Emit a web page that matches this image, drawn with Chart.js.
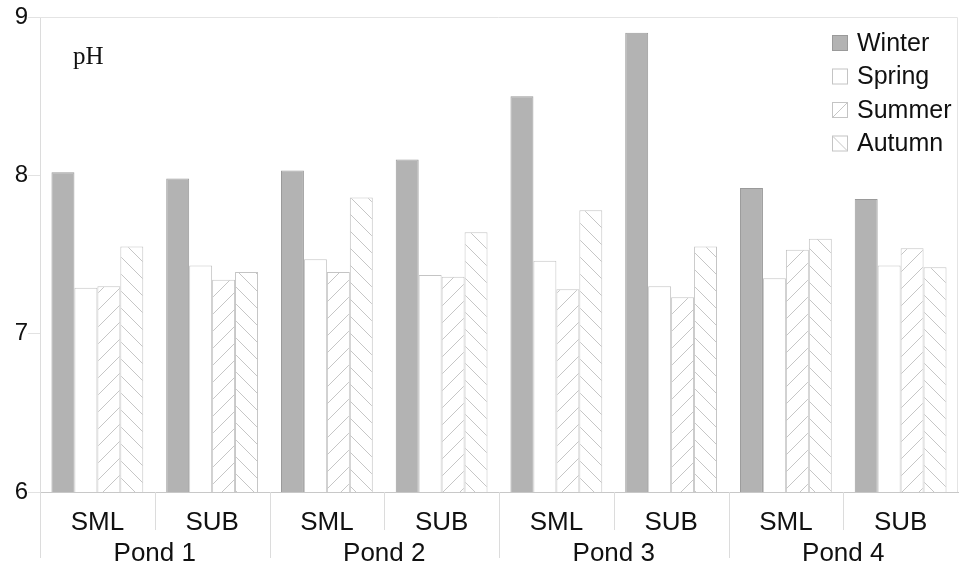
<!DOCTYPE html>
<html>
<head>
<meta charset="utf-8">
<script src="https://cdn.jsdelivr.net/npm/chart.js@4.4.1/dist/chart.umd.min.js"></script>
<style>
  html, body { margin: 0; padding: 0; background: #fff; }
</style>
</head>
<body>
<canvas id="phChart" width="961" height="566"></canvas>
<script>
// categories
const sites = ['SML', 'SUB', 'SML', 'SUB', 'SML', 'SUB', 'SML', 'SUB'];
const ponds = ['Pond 1', 'Pond 2', 'Pond 3', 'Pond 4'];
const seasons = ['Winter', 'Spring', 'Summer', 'Autumn'];
const yTicks = [6, 7, 8, 9];

// pH values
const winter = [8.02, 7.98, 8.03, 8.10, 8.50, 8.90, 7.92, 7.85];
const spring = [7.29, 7.43, 7.47, 7.37, 7.46, 7.30, 7.35, 7.43];
const summer = [7.30, 7.34, 7.39, 7.36, 7.28, 7.23, 7.53, 7.54];
const autumn = [7.55, 7.39, 7.86, 7.64, 7.78, 7.55, 7.60, 7.42];

const hatchColor = '#c6c6c6';
const textColor = '#111111';
const sans = '"Liberation Sans", Arial, sans-serif';

// hachures pour Summer (/) et Autumn (\)
function makeHatch(dir) {
    const size = 17;
    const c = document.createElement('canvas');
    c.width = size;
    c.height = size;
    const g = c.getContext('2d');
    g.fillStyle = '#ffffff';
    g.fillRect(0, 0, size, size);
    g.strokeStyle = hatchColor;
    g.lineWidth = 1;
    g.beginPath();
    if (dir === '/') {
        g.moveTo(-1, size + 1); g.lineTo(size + 1, -1);
        g.moveTo(-2, 2); g.lineTo(2, -2);
        g.moveTo(size - 2, size + 2); g.lineTo(size + 2, size - 2);
    } else {
        g.moveTo(-1, -1); g.lineTo(size + 1, size + 1);
        g.moveTo(-2, size - 2); g.lineTo(2, size + 2);
        g.moveTo(size - 2, -2); g.lineTo(size + 2, 2);
    }
    g.stroke();
    return g.createPattern(c, 'repeat');
}

const fills = ['#b3b3b3', '#ffffff', makeHatch('/'), makeHatch('\\')];
const borders = ['#9a9a9a', '#c4c4c4', '#c4c4c4', '#c4c4c4'];
const seriesValues = [winter, spring, summer, autumn];

// cadre gris clair + séparateurs sous l'axe
const framePlugin = {
    id: 'frame',
    beforeDatasetsDraw(chart) {
        const { ctx, chartArea } = chart;
        ctx.save();
        ctx.strokeStyle = '#e4e4e4';
        ctx.lineWidth = 1;
        ctx.beginPath();
        ctx.moveTo(chartArea.left, chartArea.top + 0.5);
        ctx.lineTo(chartArea.right - 0.5, chartArea.top + 0.5);
        ctx.lineTo(chartArea.right - 0.5, chartArea.bottom);
        ctx.stroke();
        ctx.restore();
    },
    afterDraw(chart) {
        const { ctx } = chart;
        const xs = chart.scales.x;
        const step = xs.getPixelForValue(1) - xs.getPixelForValue(0);
        ctx.save();
        ctx.strokeStyle = '#dcdcdc';
        ctx.lineWidth = 1;
        ctx.beginPath();
        for (let i = 0; i < sites.length; i++) {
            const px = Math.round(xs.getPixelForValue(i) - step / 2) + 0.5;
            const end = i % 2 === 0 ? chart.height - 8 : xs.top + 38;
            ctx.moveTo(px, xs.top);
            ctx.lineTo(px, end);
        }
        ctx.stroke();
        ctx.restore();
    }
};

// légende dans la zone du graphique, en haut à droite
const legendPlugin = {
    id: 'insideLegend',
    afterDraw(chart) {
        const { ctx } = chart;
        const left = 832;
        const top = 35;
        const rowH = 33.5;
        const box = 16;
        ctx.save();
        ctx.font = '25px ' + sans;
        ctx.textBaseline = 'middle';
        ctx.textAlign = 'left';
        seasons.forEach((name, i) => {
            const y = top + i * rowH;
            ctx.fillStyle = i === 0 ? fills[0] : '#ffffff';
            ctx.fillRect(left, y, box, box);
            ctx.strokeStyle = borders[i];
            ctx.lineWidth = 1;
            ctx.strokeRect(left + 0.5, y + 0.5, box - 1, box - 1);
            if (i >= 2) {
                ctx.strokeStyle = hatchColor;
                ctx.beginPath();
                if (i === 2) { ctx.moveTo(left + 1, y + box - 1); ctx.lineTo(left + box - 1, y + 1); }
                else { ctx.moveTo(left + 1, y + 1); ctx.lineTo(left + box - 1, y + box - 1); }
                ctx.stroke();
            }
            ctx.fillStyle = textColor;
            ctx.fillText(name, left + 25, y + box / 2 + 1);
        });
        ctx.restore();
    }
};

// étiquette pH
const titlePlugin = {
    id: 'phLabel',
    afterDraw(chart) {
        const { ctx } = chart;
        ctx.save();
        ctx.font = '25px "Liberation Serif", "Times New Roman", serif';
        ctx.fillStyle = textColor;
        ctx.textBaseline = 'alphabetic';
        ctx.fillText('pH', 73, 64);
        ctx.restore();
    }
};

const ctx = document.getElementById('phChart').getContext('2d');

new Chart(ctx, {
    type: 'bar',
    data: {
        labels: sites,
        datasets: seasons.map((name, i) => ({
            label: name,
            data: seriesValues[i],
            backgroundColor: fills[i],
            borderColor: borders[i],
            borderWidth: 1,
            xAxisID: 'x',
            categoryPercentage: 0.8,
            barPercentage: 1.0
        }))
    },
    options: {
        responsive: false,
        animation: false,
        devicePixelRatio: 1,
        layout: {
            padding: { top: 17, right: 3, left: 0, bottom: 0 }
        },
        plugins: {
            legend: { display: false },
            tooltip: { enabled: false }
        },
        scales: {
            x: {
                position: 'bottom',
                weight: 0,
                grid: { display: false, drawTicks: false },
                border: { color: '#c8c8c8' },
                ticks: {
                    color: textColor,
                    padding: 15,
                    maxRotation: 0,
                    autoSkip: false,
                    font: { size: 26, family: sans }
                },
                afterFit(scale) { scale.height = 46; }
            },
            x2: {
                type: 'category',
                labels: ponds,
                position: 'bottom',
                weight: 1,
                offset: true,
                grid: { display: false, drawTicks: false },
                border: { display: false },
                ticks: {
                    color: textColor,
                    padding: 0,
                    maxRotation: 0,
                    autoSkip: false,
                    font: { size: 26, family: sans }
                },
                afterFit(scale) { scale.height = 28; }
            },
            y: {
                min: yTicks[0],
                max: yTicks[yTicks.length - 1],
                grid: {
                    drawOnChartArea: false,
                    drawTicks: true,
                    tickLength: 12,
                    color: '#e2e2e2'
                },
                border: { color: '#dcdcdc' },
                ticks: {
                    stepSize: 1,
                    padding: 0,
                    color: textColor,
                    font: { size: 24, family: sans }
                },
                afterBuildTicks(scale) {
                    scale.ticks = yTicks.map(v => ({ value: v }));
                },
                afterFit(scale) { scale.width = 40; }
            }
        }
    },
    plugins: [framePlugin, legendPlugin, titlePlugin]
});
</script>
</body>
</html>
